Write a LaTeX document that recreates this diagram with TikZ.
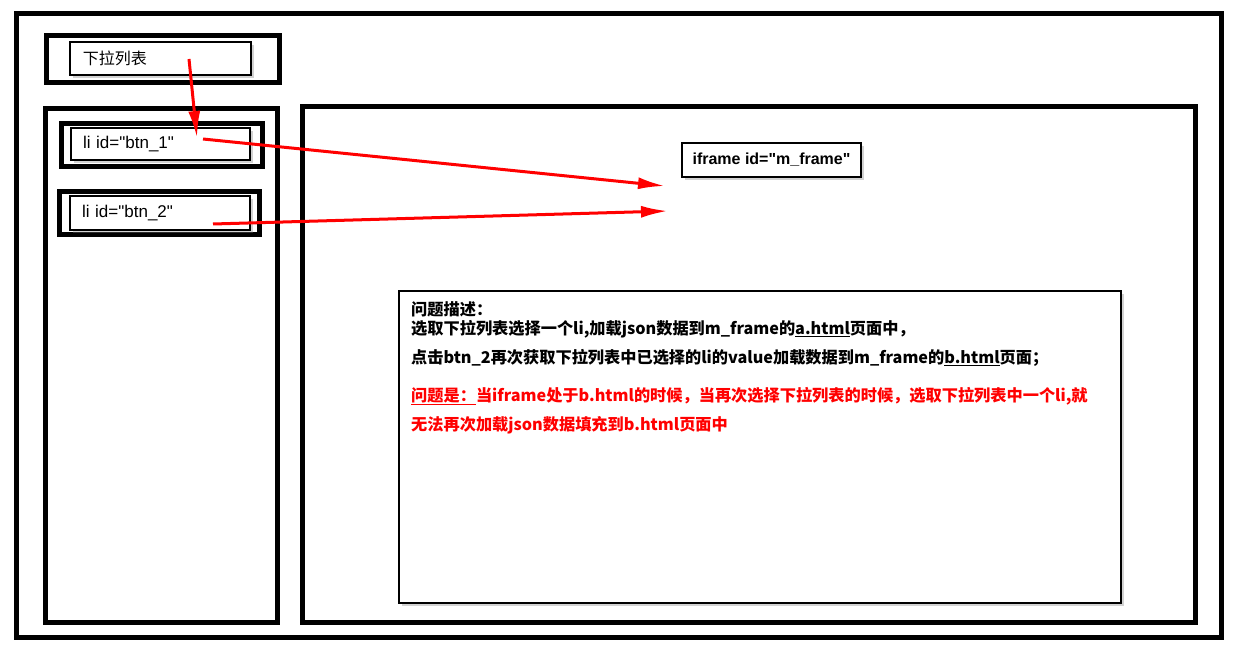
\documentclass[tikz,border=0pt]{standalone}
\usepackage{fontspec}
\setmainfont{Liberation Sans}
\newfontfamily\latinfont{Liberation Sans}
\newfontfamily\cjkfont{Noto Sans CJK SC}
\usetikzlibrary{arrows.meta}
\usetikzlibrary{shadows}

\tikzset{
	frame/.style={draw=black, line width=5pt},
	labelbox/.style={draw=black, fill=white, line width=2pt, inner sep=0pt,
		drop shadow={shadow xshift=3pt, shadow yshift=-3pt, opacity=0.35}},
	linetext/.style={anchor=west, inner sep=0pt, font=\cjkfont\bfseries\fontsize{16.2}{16.2}\selectfont},
	redarrow/.style={draw=red, line width=3pt, -{Latex[length=27pt,width=12pt]}}
}

\begin{document}
\begin{tikzpicture}[x=1pt, y=-1pt]
	\useasboundingbox (0,0) rectangle (1244,647);
	\fill[white] (0,0) rectangle (1244,647);

	\draw[frame] (16.5,13.5) rectangle (1221.5,637.5);
	\draw[frame] (46.5,35.5) rectangle (279.5,82.5);
	\draw[frame] (45.5,108.5) rectangle (277.5,622.5);
	\draw[frame] (302.5,106.5) rectangle (1195.5,622.5);
	\draw[frame] (61.5,123.5) rectangle (262,167);
	\draw[frame] (59.5,191.5) rectangle (259.5,234.5);

	\node[labelbox, text width=156pt, inner xsep=12.5pt, minimum height=32.5pt, align=left,
		font=\cjkfont\fontsize{16}{16}\selectfont] (list) at (160.75,58.75) {下拉列表};
	\node[labelbox, text width=155pt, inner xsep=12pt, minimum height=32pt, align=left,
		font=\latinfont\fontsize{17}{17}\selectfont] (btn1) at (160.5,144) {li id="btn\_1"};
	\node[labelbox, text width=156pt, inner xsep=12pt, minimum height=33.5pt, align=left,
		font=\latinfont\fontsize{17}{17}\selectfont] (btn2) at (160,213) {li id="btn\_2"};
	\node[labelbox, minimum width=179pt, minimum height=34pt,
		font=\latinfont\bfseries\fontsize{16}{16}\selectfont] (mframe) at (771.5,160) {iframe id="m\_frame"};

	\node[labelbox, minimum width=722pt, minimum height=312pt] (desc) at (760,447) {};
	\node[linetext] (q1) at (411,309) {问题描述：};
	\node[linetext] (q2) at (411,329) {选取下拉列表选择一个li,加载json数据到m\_frame的\underline{a.html}页面中，};
	\node[linetext] (q3) at (411,358) {点击btn\_2再次获取下拉列表中已选择的li的value加载数据到m\_frame的\underline{b.html}页面；};
	\node[linetext, text=red] (q4) at (411,396) {\underline{问题是：}当iframe处于b.html的时候，当再次选择下拉列表的时候，选取下拉列表中一个li,就};
	\node[linetext, text=red] (q5) at (411,425) {无法再次加载json数据填充到b.html页面中};

	\coordinate (listpt) at (189,59); \coordinate (btn1in) at (197,138);
	\coordinate (btn1pt) at (203,139); \coordinate (frameup) at (665,186);
	\coordinate (btn2pt) at (213,224); \coordinate (framedown) at (668,211);

	\draw[redarrow] (listpt) -- (btn1in);
	\draw[redarrow] (btn1pt) -- (frameup);
	\draw[redarrow] (btn2pt) -- (framedown);
\end{tikzpicture}
\end{document}
